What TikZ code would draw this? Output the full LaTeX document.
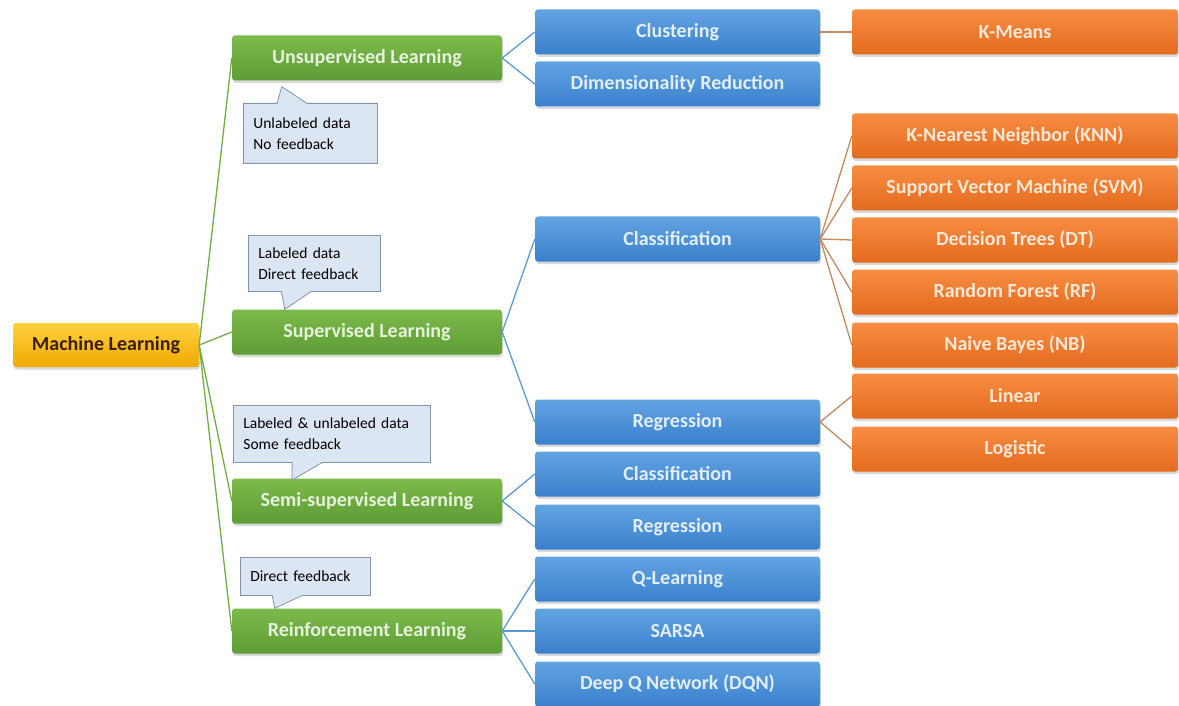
\documentclass[tikz,border=0pt]{standalone}
\usepackage{fontspec}
\setmainfont{Carlito}
\usepackage{tikz}
\usetikzlibrary{positioning,shapes.callouts,shadows}
\definecolor{mlGold}{HTML}{F0AA00}
\definecolor{mlGoldLt}{HTML}{FFD040}
\definecolor{mlInk}{HTML}{3B1E08}
\definecolor{lrnGreen}{HTML}{5E9C36}
\definecolor{lrnGreenLt}{HTML}{7CBA4C}
\definecolor{lrnInk}{HTML}{E6F2DC}
\definecolor{taskBlue}{HTML}{3A80CC}
\definecolor{taskBlueLt}{HTML}{62A3E2}
\definecolor{taskInk}{HTML}{E2EEFA}
\definecolor{algOrange}{HTML}{E36B1E}
\definecolor{algOrangeLt}{HTML}{F78D42}
\definecolor{algInk}{HTML}{FDE8D8}
\definecolor{noteFill}{HTML}{DCE6F2}
\definecolor{noteLine}{HTML}{8095B0}
\definecolor{linkGreen}{HTML}{70AD47}
\definecolor{linkBlue}{HTML}{5B9BD5}
\definecolor{linkOrange}{HTML}{C58A5E}
\tikzset{
  boxnode/.style={rounded corners=3pt, minimum height=45pt, inner sep=2pt,
                  font=\fontsize{20}{24}\selectfont\bfseries,
                  drop shadow={opacity=0.3, shadow xshift=1pt, shadow yshift=-2.5pt}},
  rootnode/.style={boxnode, minimum width=186pt, minimum height=44pt,
                   top color=mlGoldLt, bottom color=mlGold, text=mlInk},
  typenode/.style={boxnode, minimum width=270pt,
                   top color=lrnGreenLt, bottom color=lrnGreen, text=lrnInk},
  tasknode/.style={boxnode, minimum width=285pt,
                   top color=taskBlueLt, bottom color=taskBlue, text=taskInk},
  algnode/.style={boxnode, minimum width=326pt,
                  top color=algOrangeLt, bottom color=algOrange, text=algInk},
  notenode/.style={rectangle callout, draw=noteLine, fill=noteFill, line width=0.8pt,
                   callout pointer width=30pt, align=left, inner xsep=10pt,
                   inner ysep=4pt, anchor=north west,
                   font=\fontsize{15.5}{21}\selectfont},
  typelink/.style={linkGreen, line width=1.3pt},
  tasklink/.style={linkBlue, line width=1.3pt},
  alglink/.style={linkOrange, line width=1.3pt},
}

\begin{document}
\begin{tikzpicture}[x=1pt, y=-1pt]
\def\xRoot{106}    % x of root column
\def\xType{367}    % x of learning types
\def\xTask{677.5}  % x of tasks
\def\xAlg{1015}    % x of algorithms

\useasboundingbox (0,0) rectangle (1179,706);

%% Root
\node[rootnode] (ml) at (\xRoot,345) {Machine Learning};

%% Learning types
\foreach \nm/\yy/\lbl in {un/58/Unsupervised Learning, sup/332/Supervised Learning,
                          semi/501/Semi-supervised Learning, rl/631/Reinforcement Learning} {
  \node[typenode] (\nm) at (\xType,\yy) {\lbl};
  \draw[typelink] (ml.east) -- (\nm.west);
}

%% Tasks
\foreach \nm/\yy/\lbl/\src in {cl/32/Clustering/un, dr/84/Dimensionality Reduction/un,
                               cls/239/Classification/sup, reg/422/Regression/sup,
                               clsb/474/Classification/semi, regb/527/Regression/semi,
                               ql/579/Q-Learning/rl, sarsa/631/SARSA/rl,
                               dqn/684/{Deep Q Network (DQN)}/rl} {
  \node[tasknode] (\nm) at (\xTask,\yy) {\lbl};
  \draw[tasklink] (\src.east) -- (\nm.west);
}

%% Algorithms
\foreach \nm/\yy/\lbl/\src in {km/32/K-Means/cl,
                               knn/136/{K-Nearest Neighbor (KNN)}/cls,
                               svm/188/{Support Vector Machine (SVM)}/cls,
                               dt/240/{Decision Trees (DT)}/cls,
                               rf/292/{Random Forest (RF)}/cls,
                               nb/345/{Naive Bayes (NB)}/cls,
                               lin/396/Linear/reg, logi/449/Logistic/reg} {
  \node[algnode] (\nm) at (\xAlg,\yy) {\lbl};
  \draw[alglink] (\src.east) -- (\nm.west);
}

%% Notes
\node[notenode, text width=114pt, minimum height=60pt,
      callout absolute pointer={([xshift=50pt,yshift=-6pt]un.south west)}]
      (unNote) at (243,103) {Unlabeled data\\No feedback};
\node[notenode, text width=112pt, minimum height=56pt,
      callout absolute pointer={([xshift=53pt]sup.north west)}]
      (supNote) at (248,235) {Labeled data\\Direct feedback};
\node[notenode, text width=177pt, minimum height=57pt,
      callout absolute pointer={([xshift=60pt,yshift=-2pt]semi.north west)}]
      (semiNote) at (233,405) {Labeled \& unlabeled data\\Some feedback};
\node[notenode, text width=110pt, minimum height=38pt,
      callout absolute pointer={([xshift=43pt]rl.north west)}]
      (rlNote) at (240,557) {Direct feedback};
\end{tikzpicture}
\end{document}
